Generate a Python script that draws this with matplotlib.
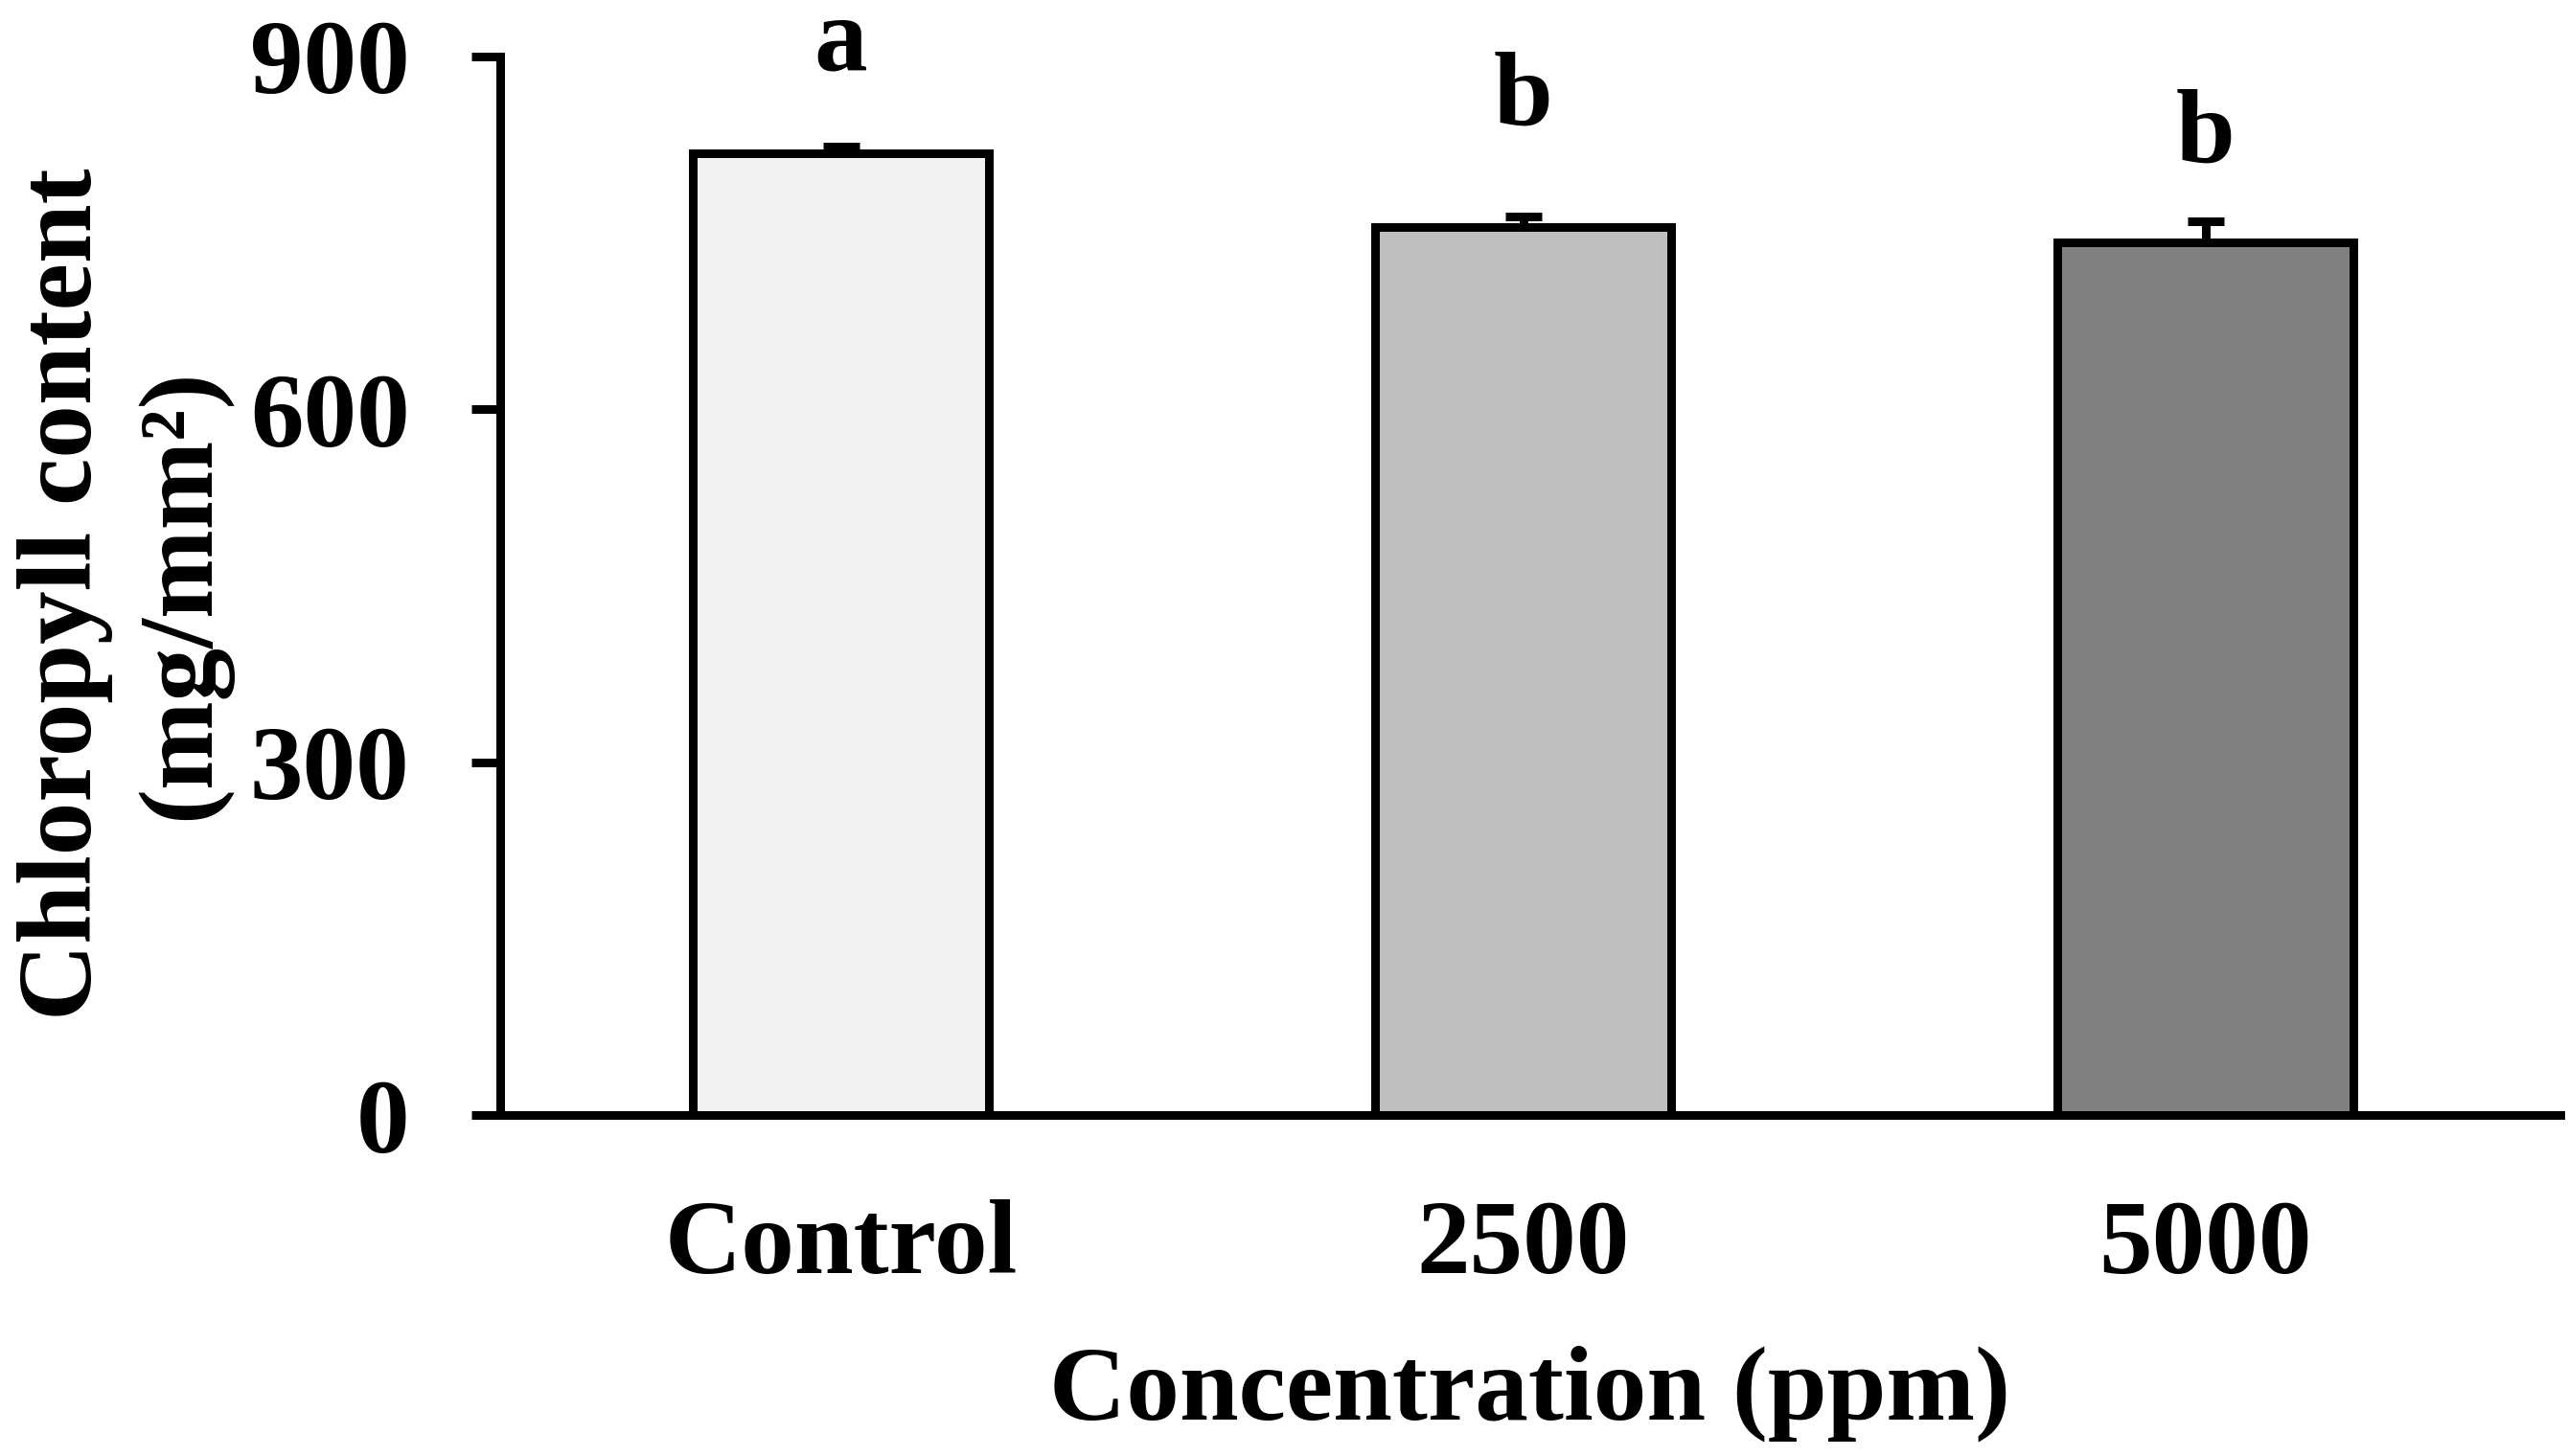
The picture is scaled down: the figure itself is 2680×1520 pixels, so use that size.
import matplotlib
matplotlib.use("Agg")
import matplotlib.pyplot as plt

plt.rcParams['font.family'] = ['Liberation Serif', 'DejaVu Serif']
plt.rcParams['font.weight'] = 'bold'

# data
groups = ["Control", "2500", "5000"]
chlorophyll = [817.4, 755.4, 741.7]
errors = [5.7, 9.0, 17.9]
letters = ["a", "b", "b"]
letter_y = [889, 842, 810]
colors = ["#f2f2f2", "#bfbfbf", "#808080"]

lw = 3.24
fs = 40

fig = plt.figure(figsize=(13.4, 7.6), dpi=200)
ax = fig.add_axes([0.1946, 0.2339, 0.8025, 0.7273])

x = range(len(groups))
ax.bar(x, chlorophyll, width=0.434, color=colors, edgecolor='black',
       linewidth=lw, zorder=2)
ax.errorbar(x, chlorophyll, yerr=[[0] * len(errors), errors], fmt='none',
            ecolor='black', elinewidth=lw, capsize=7, capthick=lw, zorder=1)

for i, (t, yy) in enumerate(zip(letters, letter_y)):
    ax.text(i, yy, t, ha='center', va='baseline', fontsize=fs, fontweight='bold')

ax.set_xlim(-0.5, 2.52)
ax.set_ylim(0, 900)
ax.set_yticks([0, 300, 600, 900])
ax.set_xticks(list(x))
ax.set_xticklabels(groups)

ax.spines['top'].set_visible(False)
ax.spines['right'].set_visible(False)
ax.spines['left'].set_linewidth(lw)
ax.spines['bottom'].set_linewidth(lw)

ax.tick_params(axis='y', direction='out', length=10.8, width=lw, pad=23,
               labelsize=fs)
ax.tick_params(axis='x', length=0, pad=31.5, labelsize=fs)

ax.set_xlabel("Concentration (ppm)", fontsize=fs, fontweight='bold', labelpad=19)

# two-line y label
fig.text(95 / 2680, 0.592, "Chloropyll content", rotation=90,
         rotation_mode='anchor', ha='center', va='baseline',
         fontsize=fs, fontweight='bold')
fig.text(217 / 2680, 0.592, "(mg/mm²)", rotation=90,
         rotation_mode='anchor', ha='center', va='baseline',
         fontsize=fs, fontweight='bold')

plt.savefig("out.png", dpi=200)
